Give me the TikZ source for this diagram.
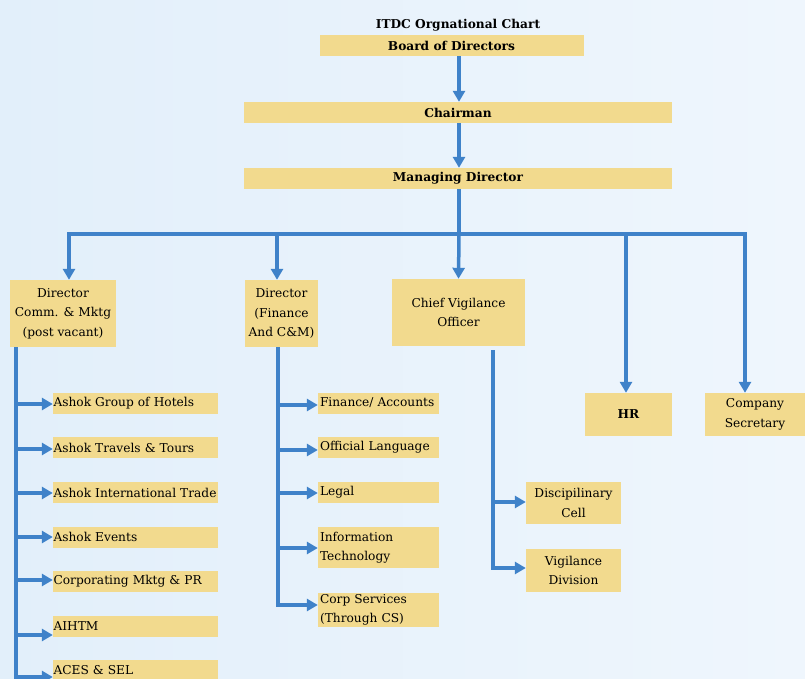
\documentclass[tikz,border=0pt]{standalone}
\usepackage{fontspec}
\setmainfont{DejaVu Serif}
\usetikzlibrary{arrows.meta}
\definecolor{bgleft}{HTML}{E2EFFA}
\definecolor{bgright}{HTML}{EFF6FD}
\definecolor{boxfill}{HTML}{F2DA8E}
\definecolor{arrblue}{HTML}{3F82C9}
\tikzset{
	chartfont/.style={font=\fontsize{12.2}{19.5}\selectfont},
	head/.style={rectangle, fill=boxfill, font=\bfseries\fontsize{12.2}{19.5}\selectfont, inner sep=0pt, minimum height=21},
	unit/.style={rectangle, fill=boxfill, chartfont, align=center, inner sep=0pt},
	itemA/.style={rectangle, fill=boxfill, chartfont, align=left, text width=164, inner xsep=0.5, inner ysep=0pt, minimum height=21},
	itemB/.style={rectangle, fill=boxfill, chartfont, align=left, text width=117, inner xsep=2, inner ysep=0pt, minimum height=21},
	line/.style={draw=arrblue, line width=3.5},
	arr/.style={line, -{Triangle[length=11, width=12]}}
}
\begin{document}
\begin{tikzpicture}[x=1pt, y=-1pt]
	% Background
	\shade[left color=bgleft, right color=bgright] (0,0) rectangle (805,679);
	\useasboundingbox (0,0) rectangle (805,679);
	% Top
	\node[font=\bfseries\fontsize{12.2}{14}\selectfont] (title) at (458,25) {ITDC Orgnational Chart};
	\node[head, minimum width=264] (board) at (451.5,45.5) {Board of Directors};
	\node[head, minimum width=428] (chair) at (458,112.5) {Chairman};
	\node[head, minimum width=428] (md) at (458,178.5) {Managing Director};
	\draw [arr] ([xshift=1]chair.north |- board.south) -- ([xshift=1]chair.north);
	\draw [arr] ([xshift=1]chair.south) -- ([xshift=1]md.north);
	% Second level
	\node[unit, minimum width=106, minimum height=67] (dcm) at (63,313.5) {Director\\Comm. \& Mktg\\(post vacant)};
	\node[unit, minimum width=73, minimum height=67] (dfin) at (281.5,313.5) {Director\\(Finance\\And C\&M)};
	\node[unit, minimum width=133, minimum height=67] (cvo) at (458.5,312.5) {Chief Vigilance\\Officer};
	\node[unit, minimum width=87, minimum height=43] (hr) at (628.5,414.5) {\bfseries HR};
	\node[unit, minimum width=100, minimum height=43] (csec) at (755,414.5) {Company\\Secretary};
	\coordinate (bus) at (459,234);
	\draw [line] ([xshift=1]md.south) -- (bus);
	\draw [arr] (bus) -| ([xshift=6]dcm.north);
	\draw [arr] (bus) -| ([xshift=-4.5]dfin.north);
	\draw [arr] (bus) -- (cvo.north);
	\draw [arr] (bus) -| ([xshift=-2.5]hr.north);
	\draw [arr] (bus) -| ([xshift=-10]csec.north);
	% Commercial and marketing
	\coordinate (trunkA) at ([xshift=6]dcm.south west);
	\foreach \n/\y/\d/\t in {hotels/403/-1/Ashok Group of Hotels, travels/447.5/-1.5/Ashok Travels \& Tours, trade/492.5/-0.5/Ashok International Trade, events/537/0/Ashok Events, cmktg/581.5/1.5/Corporating Mktg \& PR, aihtm/626/-9/AIHTM, aces/670/-7/ACES \& SEL} {
		\node[itemA] (\n) at (135.5,\y) {\t};
		\draw [arr] (trunkA) |- ([yshift=\d]\n.west);
	}
	% Finance
	\coordinate (trunkB) at ([xshift=-3.5]dfin.south);
	\node[itemB] (fin) at (378.5,403) {Finance/ Accounts};
	\node[itemB] (lang) at (378.5,447.5) {Official Language};
	\node[itemB] (legal) at (378.5,492.5) {Legal};
	\node[itemB, minimum height=41] (it) at (378.5,547.5) {Information\\Technology};
	\node[itemB, minimum height=34] (corp) at (378.5,610) {Corp Services\\(Through CS)};
	\foreach \n/\d in {fin/-2, lang/-2.5, legal/-0.5, it/-0.5, corp/5} {
		\draw [arr] (trunkB) |- ([yshift=\d]\n.west);
	}
	% Vigilance
	\node[unit, minimum width=95, minimum height=42] (disc) at (573.5,503) {Discipilinary\\Cell};
	\node[unit, minimum width=95, minimum height=43] (vig) at (573.5,570.5) {Vigilance\\Division};
	\coordinate (trunkC) at ([xshift=34.5, yshift=-4]cvo.south);
	\draw [arr] (trunkC) |- ([yshift=1]disc.west);
	\draw [arr] (trunkC) |- ([yshift=2.5]vig.west);
\end{tikzpicture}
\end{document}
